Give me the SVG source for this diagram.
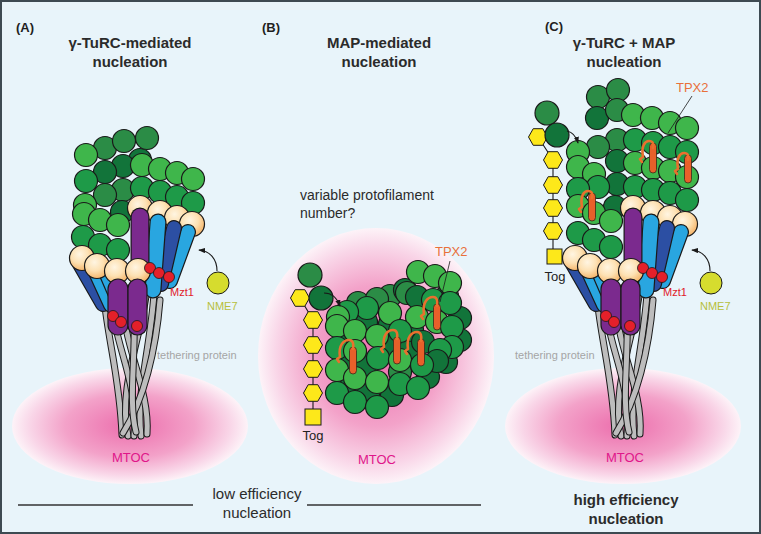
<svg xmlns="http://www.w3.org/2000/svg" width="761" height="534" viewBox="0 0 761 534">
<defs>
<style>
.t{font-family:"Liberation Sans",Arial,Helvetica,sans-serif}
.h{font-size:15px;font-weight:bold;fill:#2b2b2b;text-anchor:middle}
.pl{font-size:13px;font-weight:bold;fill:#1f1f1f}
.c{stroke:#1a1a1a;stroke-width:1.2}
.L{fill:#3fb64b}.M{fill:#1e9a48}.N{fill:#2b8c46}.D{fill:#12743a}
.tan{fill:url(#tanG);stroke:#1a1a1a;stroke-width:1.2}
.red{fill:#e4202a;stroke:#1a1a1a;stroke-width:0.8}
.tb{fill:none;stroke:#1a1a1a;stroke-width:7;stroke-linecap:round}
.tg{fill:none;stroke:#bdbdbd;stroke-width:5;stroke-linecap:round}
.sk{stroke:#1a1a1a;stroke-linecap:round}
.sc{stroke-linecap:round}
.hex{fill:#fde81a;stroke:#1a1a1a;stroke-width:1}
.rod{fill:#e8602a;stroke:#3a2a1a;stroke-width:0.8}
.hook{fill:none;stroke:#e9702e;stroke-width:2.6;stroke-linecap:round;stroke-linejoin:round}
.con{fill:none;stroke:#1a1a1a;stroke-width:1.1}
.mtoc{font-size:13px;fill:#e0168a;text-anchor:middle}
.sm{font-size:11px}
</style>
<radialGradient id="tanG" cx="0.4" cy="0.35" r="0.7">
<stop offset="0" stop-color="#fff5e2"/>
<stop offset="0.5" stop-color="#fde1b3"/>
<stop offset="1" stop-color="#f4b062"/>
</radialGradient>
<radialGradient id="pink">
<stop offset="0" stop-color="#ec6dac"/>
<stop offset="0.55" stop-color="#f3a2c9"/>
<stop offset="0.85" stop-color="#f9d6e8"/>
<stop offset="1" stop-color="#fdf3f8"/>
</radialGradient>
<marker id="ah" viewBox="0 0 8 6" refX="7" refY="3" markerWidth="7" markerHeight="5.5" markerUnits="userSpaceOnUse" orient="auto">
<path d="M0,0 L8,3 L0,6 z" fill="#1a1a1a"/>
</marker>
<g id="turc">
<path class="tb" d="M104,298 C108,340 120,380 122,435"/><path class="tg" d="M104,298 C108,340 120,380 122,435"/>
<path class="tb" d="M146,296 C140,340 118,390 128,436"/><path class="tg" d="M146,296 C140,340 118,390 128,436"/>
<path class="tb" d="M111,300 C116,350 138,380 134,436"/><path class="tg" d="M111,300 C116,350 138,380 134,436"/>
<path class="tb" d="M154,294 C150,350 136,392 141,436"/><path class="tg" d="M154,294 C150,350 136,392 141,436"/>
<path class="tb" d="M122,305 C126,350 150,392 147,434"/><path class="tg" d="M122,305 C126,350 150,392 147,434"/>
<path class="tb" d="M160,300 C156,350 144,400 123,433"/><path class="tg" d="M160,300 C156,350 144,400 123,433"/>
<path class="tb" d="M134,308 C136,360 128,400 136,432"/><path class="tg" d="M134,308 C136,360 128,400 136,432"/>
<circle class="tan" cx="140" cy="208" r="12.5"/>
<circle class="tan" cx="160" cy="213" r="12.5"/>
<circle class="tan" cx="177" cy="218" r="12.5"/>
<circle class="tan" cx="192" cy="224" r="12.5"/>
<line class="sk" x1="80" y1="264" x2="103" y2="304" stroke-width="16"/><line class="sc" x1="80" y1="264" x2="103" y2="304" stroke="#2c4fa3" stroke-width="13.6"/>
<line class="sk" x1="94" y1="268" x2="111" y2="305" stroke-width="16"/><line class="sc" x1="94" y1="268" x2="111" y2="305" stroke="#29a6e0" stroke-width="13.6"/>
<line class="sk" x1="106" y1="272" x2="119" y2="302" stroke-width="16"/><line class="sc" x1="106" y1="272" x2="119" y2="302" stroke="#29a6e0" stroke-width="13.6"/>
<line class="sk" x1="188" y1="232" x2="170" y2="281" stroke-width="16"/><line class="sc" x1="188" y1="232" x2="170" y2="281" stroke="#29a6e0" stroke-width="13.6"/>
<line class="sk" x1="174" y1="228" x2="161" y2="284" stroke-width="16"/><line class="sc" x1="174" y1="228" x2="161" y2="284" stroke="#2c4fa3" stroke-width="13.6"/>
<line class="sk" x1="158" y1="222" x2="153" y2="290" stroke-width="17"/><line class="sc" x1="158" y1="222" x2="153" y2="290" stroke="#29a6e0" stroke-width="14.6"/>
<line class="sk" x1="140" y1="217" x2="140" y2="274" stroke-width="19"/><line class="sc" x1="140" y1="217" x2="140" y2="274" stroke="#7b2a8e" stroke-width="16.6"/>
<circle class="tan" cx="82" cy="258" r="12.5"/>
<circle class="tan" cx="97" cy="266" r="12.5"/>
<circle class="tan" cx="117" cy="271" r="12.5"/>
<circle class="tan" cx="138" cy="271" r="12.5"/>
<circle class="red" cx="150" cy="268" r="5.5"/>
<circle class="red" cx="159" cy="273" r="5.5"/>
<circle class="red" cx="169" cy="277" r="5.5"/>
<rect x="108" y="279" width="20" height="56" rx="10" fill="#7b2a8e" stroke="#1a1a1a" stroke-width="1.2"/>
<rect x="128" y="279" width="19" height="56" rx="9.5" fill="#7b2a8e" stroke="#1a1a1a" stroke-width="1.2"/>
<circle class="red" cx="113" cy="316" r="5.5"/>
<circle class="red" cx="121" cy="322" r="5.5"/>
<circle class="red" cx="137" cy="326" r="5.5"/>
</g>
</defs>

<rect x="1" y="1" width="759" height="532" fill="#e8f4fa" stroke="#3d4a52" stroke-width="2"/>

<g id="mtoc-areas">
<ellipse cx="130" cy="426" rx="118" ry="58" fill="url(#pink)"/>
<ellipse cx="376" cy="356" rx="118" ry="128" fill="url(#pink)"/>
<ellipse cx="623" cy="426" rx="118" ry="58" fill="url(#pink)"/>
</g>

<g id="titles" class="t">
<text class="pl" x="16" y="32">(A)</text>
<text class="h" x="130" y="48">γ-TuRC-mediated</text>
<text class="h" x="130" y="67">nucleation</text>
<text class="pl" x="262" y="32">(B)</text>
<text class="h" x="379" y="48">MAP-mediated</text>
<text class="h" x="379" y="67">nucleation</text>
<text class="pl" x="545" y="31">(C)</text>
<text class="h" x="624" y="48">γ-TuRC + MAP</text>
<text class="h" x="624" y="67">nucleation</text>
</g>

<g id="panelA">
<g id="lattice-A" class="c">
<circle class="D" cx="140" cy="160" r="11.5"/>
<circle class="N" cx="105" cy="148" r="11.5"/><circle class="N" cx="124" cy="141" r="11.5"/><circle class="N" cx="147" cy="138" r="11.5"/>
<circle class="L" cx="86" cy="155" r="11.5"/>
<circle class="D" cx="123" cy="166" r="11.5"/><circle class="D" cx="105" cy="172" r="11.5"/>
<circle class="M" cx="86" cy="181" r="11.5"/>
<circle class="L" cx="142" cy="165" r="11.5"/><circle class="L" cx="160" cy="169" r="11.5"/><circle class="L" cx="177" cy="173" r="11.5"/><circle class="L" cx="193" cy="179" r="11.5"/>
<circle class="N" cx="123" cy="190" r="11.5"/><circle class="N" cx="105" cy="195" r="11.5"/>
<circle class="M" cx="142" cy="188" r="11.5"/><circle class="M" cx="160" cy="192" r="11.5"/><circle class="M" cx="177" cy="197" r="11.5"/><circle class="M" cx="193" cy="203" r="11.5"/>
<circle class="D" cx="122" cy="212" r="11.5"/>
<circle class="L" cx="85" cy="205" r="11.5"/><circle class="L" cx="84" cy="214" r="11.5"/>
<circle class="L" cx="100" cy="220" r="11.5"/><circle class="L" cx="118" cy="225" r="11.5"/>
<circle class="M" cx="83" cy="237" r="11.5"/><circle class="M" cx="100" cy="245" r="11.5"/><circle class="M" cx="118" cy="250" r="11.5"/>
</g>
<g id="gTuRC-A"><use href="#turc"/></g>
<g id="nme7-A"><circle cx="218" cy="283" r="11" fill="#d6dc2e" stroke="#1a1a1a" stroke-width="1"/></g>
<g id="labels-A" class="t sm">
<text x="170" y="296" fill="#e0202a">Mzt1</text>
<text x="207" y="310" fill="#b7bf3c">NME7</text>
<text x="157" y="359" fill="#a5a5a5">tethering protein</text>
<text class="mtoc" x="131" y="462">MTOC</text>
</g>
</g>

<g id="panelB">
<text class="t" x="300" y="200" font-size="14" fill="#2b2b2b">variable protofilament</text>
<text class="t" x="300" y="218" font-size="14" fill="#2b2b2b">number?</text>
<g id="lattice-B" class="c">
<circle class="N" cx="358" cy="303" r="11.5"/><circle class="N" cx="390" cy="296" r="11.5"/><circle class="D" cx="405" cy="290" r="11.5"/>
<circle class="D" cx="447" cy="296" r="11.5"/><circle class="D" cx="460" cy="318" r="11.5"/><circle class="D" cx="460" cy="340" r="11.5"/>
<circle class="D" cx="446" cy="362" r="11.5"/><circle class="D" cx="428" cy="377" r="11.5"/><circle class="N" cx="400" cy="372" r="11.5"/>
<circle class="D" cx="365" cy="365" r="11.5"/><circle class="D" cx="346" cy="358" r="11.5"/><circle class="D" cx="388" cy="345" r="11.5"/>
<circle class="D" cx="410" cy="350" r="11.5"/><circle class="D" cx="346" cy="337" r="11.5"/><circle class="D" cx="366" cy="322" r="11.5"/>
<circle class="D" cx="390" cy="324" r="11.5"/><circle class="D" cx="412" cy="330" r="11.5"/><circle class="D" cx="350" cy="388" r="11.5"/>
<circle class="D" cx="368" cy="395" r="11.5"/><circle class="D" cx="392" cy="395" r="11.5"/>
<circle class="L" cx="418" cy="272" r="11.5"/><circle class="L" cx="435" cy="276" r="11.5"/><circle class="L" cx="450" cy="283" r="11.5"/>
<circle class="N" cx="407" cy="293" r="11.5"/><circle class="N" cx="377" cy="299" r="11.5"/>
<circle class="D" cx="417" cy="297" r="11.5"/><circle class="M" cx="433" cy="300" r="11.5"/><circle class="M" cx="450" cy="303" r="11.5"/>
<circle class="M" cx="367" cy="308" r="11.5"/><circle class="M" cx="347" cy="312" r="11.5"/>
<circle class="L" cx="390" cy="313" r="11.5"/><circle class="L" cx="338" cy="317" r="11.5"/>
<circle class="L" cx="417" cy="317" r="11.5"/><circle class="L" cx="437" cy="322" r="11.5"/><circle class="M" cx="452" cy="327" r="11.5"/>
<circle class="L" cx="337" cy="326" r="11.5"/><circle class="L" cx="355" cy="331" r="11.5"/><circle class="L" cx="377" cy="336" r="11.5"/>
<circle class="M" cx="400" cy="331" r="11.5"/><circle class="D" cx="423" cy="342" r="11.5"/><circle class="M" cx="452" cy="347" r="11.5"/><circle class="M" cx="440" cy="350" r="11.5"/>
<circle class="M" cx="337" cy="348" r="11.5"/><circle class="L" cx="355" cy="351" r="11.5"/><circle class="M" cx="378" cy="358" r="11.5"/>
<circle class="L" cx="400" cy="360" r="11.5"/><circle class="D" cx="437" cy="361" r="11.5"/><circle class="M" cx="422" cy="365" r="11.5"/>
<circle class="L" cx="337" cy="370" r="11.5"/><circle class="L" cx="355" cy="378" r="11.5"/><circle class="L" cx="377" cy="382" r="11.5"/>
<circle class="M" cx="400" cy="384" r="11.5"/><circle class="M" cx="418" cy="388" r="11.5"/>
<circle class="M" cx="337" cy="393" r="11.5"/><circle class="M" cx="355" cy="402" r="11.5"/><circle class="M" cx="377" cy="407" r="11.5"/>
</g>
<g id="tpx2-B">
<rect class="rod" x="433.5" y="304" width="7" height="26" rx="3.5"/>
<path class="hook" d="M424,314 l-3,2 l2,3 M424,314 C422,302 428,297 433,297 C437,297 438,301 437,306"/>
<rect class="rod" x="349.5" y="347" width="7" height="27" rx="3.5"/>
<path class="hook" d="M340,357 l-3,2 l2,3 M340,357 C338,345 344,340 349,340 C353,340 354,344 353,349"/>
<rect class="rod" x="393.5" y="337" width="7" height="27" rx="3.5"/>
<path class="hook" d="M384,347 l-3,2 l2,3 M384,347 C382,335 388,330 393,330 C397,330 398,334 397,339"/>
<rect class="rod" x="417.5" y="339" width="7" height="27" rx="3.5"/>
<path class="hook" d="M408,349 l-3,2 l2,3 M408,349 C406,337 412,332 417,332 C421,332 422,336 421,341"/>
</g>
<g id="tog-B">
<polyline class="con" points="300,298 313,320 313,417"/>
<polygon class="hex" transform="translate(300,298)" points="9.5,0 4.8,8.3 -4.8,8.3 -9.5,0 -4.8,-8.3 4.8,-8.3"/>
<polygon class="hex" transform="translate(313,320)" points="9.5,0 4.8,8.3 -4.8,8.3 -9.5,0 -4.8,-8.3 4.8,-8.3"/>
<polygon class="hex" transform="translate(313,345)" points="9.5,0 4.8,8.3 -4.8,8.3 -9.5,0 -4.8,-8.3 4.8,-8.3"/>
<polygon class="hex" transform="translate(313,369)" points="9.5,0 4.8,8.3 -4.8,8.3 -9.5,0 -4.8,-8.3 4.8,-8.3"/>
<polygon class="hex" transform="translate(313,393)" points="9.5,0 4.8,8.3 -4.8,8.3 -9.5,0 -4.8,-8.3 4.8,-8.3"/>
<rect class="hex" x="305" y="409" width="16" height="16"/>
<circle class="c N" cx="310" cy="275" r="12"/>
<circle class="c D" cx="321" cy="298" r="12"/>
</g>
<g class="t">
<text x="435" y="256" font-size="13" fill="#e8703a">TPX2</text>
<text x="313" y="440" font-size="13" fill="#222" text-anchor="middle">Tog</text>
<text class="mtoc" x="377" y="464">MTOC</text>
</g>
</g>

<g id="panelC">
<g id="lattice-C" class="c">
<circle class="N" cx="598" cy="97" r="11.5"/><circle class="N" cx="618" cy="90" r="11.5"/>
<circle class="D" cx="597" cy="118" r="11.5"/><circle class="N" cx="617" cy="110" r="11.5"/>
<circle class="L" cx="633" cy="115" r="11.5"/><circle class="L" cx="652" cy="118" r="11.5"/><circle class="L" cx="670" cy="123" r="11.5"/><circle class="L" cx="687" cy="128" r="11.5"/>
<circle class="N" cx="617" cy="140" r="11.5"/><circle class="N" cx="598" cy="147" r="11.5"/>
<circle class="M" cx="635" cy="140" r="11.5"/><circle class="M" cx="653" cy="143" r="11.5"/><circle class="M" cx="670" cy="147" r="11.5"/><circle class="M" cx="687" cy="152" r="11.5"/>
<circle class="L" cx="578" cy="152" r="11.5"/>
<circle class="D" cx="617" cy="161" r="11.5"/>
<circle class="L" cx="578" cy="167" r="11.5"/><circle class="L" cx="594" cy="174" r="11.5"/>
<circle class="L" cx="635" cy="163" r="11.5"/><circle class="L" cx="653" cy="168" r="11.5"/><circle class="L" cx="670" cy="171" r="11.5"/><circle class="L" cx="687" cy="177" r="11.5"/>
<circle class="D" cx="617" cy="184" r="11.5"/>
<circle class="M" cx="598" cy="187" r="11.5"/><circle class="M" cx="578" cy="189" r="11.5"/>
<circle class="M" cx="635" cy="187" r="11.5"/><circle class="M" cx="653" cy="190" r="11.5"/><circle class="M" cx="670" cy="193" r="11.5"/><circle class="M" cx="687" cy="200" r="11.5"/>
<circle class="D" cx="615" cy="207" r="11.5"/>
<circle class="L" cx="578" cy="206" r="11.5"/><circle class="L" cx="594" cy="213" r="11.5"/><circle class="L" cx="611" cy="221" r="11.5"/>
<circle class="M" cx="578" cy="233" r="11.5"/><circle class="M" cx="594" cy="240" r="11.5"/><circle class="M" cx="611" cy="247" r="11.5"/>
</g>
<g id="tpx2-C">
<rect class="rod" x="649.5" y="143" width="7" height="30" rx="3.5"/>
<path class="hook" d="M643,157 l-3,2 l2,3 M643,157 C641,146 645,141 649,141 C653,141 654,144 653,148"/>
<rect class="rod" x="684.5" y="155" width="7" height="28" rx="3.5"/>
<path class="hook" d="M678,169 l-3,2 l2,3 M678,169 C676,158 680,153 684,153 C688,153 689,156 688,160"/>
<rect class="rod" x="588.5" y="193" width="7" height="28" rx="3.5"/>
<path class="hook" d="M582,207 l-3,2 l2,3 M582,207 C580,196 584,191 588,191 C592,191 593,194 592,198"/>
</g>
<g id="gTuRC-C"><use href="#turc" transform="translate(493,0)"/></g>
<g id="tog-C">
<polyline class="con" points="538,137 553,160 553,257"/>
<polygon class="hex" transform="translate(538,137)" points="9.5,0 4.8,8.3 -4.8,8.3 -9.5,0 -4.8,-8.3 4.8,-8.3"/>
<polygon class="hex" transform="translate(553,160)" points="9.5,0 4.8,8.3 -4.8,8.3 -9.5,0 -4.8,-8.3 4.8,-8.3"/>
<polygon class="hex" transform="translate(553,185)" points="9.5,0 4.8,8.3 -4.8,8.3 -9.5,0 -4.8,-8.3 4.8,-8.3"/>
<polygon class="hex" transform="translate(553,208)" points="9.5,0 4.8,8.3 -4.8,8.3 -9.5,0 -4.8,-8.3 4.8,-8.3"/>
<polygon class="hex" transform="translate(553,231)" points="9.5,0 4.8,8.3 -4.8,8.3 -9.5,0 -4.8,-8.3 4.8,-8.3"/>
<rect class="hex" x="547" y="249" width="15" height="15"/>
<circle class="c N" cx="547" cy="113" r="12"/>
<circle class="c D" cx="557" cy="135" r="12"/>
</g>
<g id="nme7-C"><circle cx="711" cy="283" r="11" fill="#d6dc2e" stroke="#1a1a1a" stroke-width="1"/></g>
<g id="labels-C" class="t sm">
<text x="663" y="296" fill="#e0202a">Mzt1</text>
<text x="700" y="310" fill="#b7bf3c">NME7</text>
<text x="515" y="359" fill="#a5a5a5">tethering protein</text>
<text x="676" y="92" font-size="13" fill="#e8703a">TPX2</text>
<text x="555" y="281" font-size="13" fill="#222" text-anchor="middle">Tog</text>
<text class="mtoc" x="625" y="462">MTOC</text>
</g>
</g>

<g id="connectors">
<path class="con" d="M217,271 C217,259 210,251 199,250" marker-end="url(#ah)"/>
<path class="con" d="M710,271 C710,259 703,251 692,250" marker-end="url(#ah)"/>
<path class="con" d="M324,293 C332,293 337,298 340,306" marker-end="url(#ah)"/>
<path class="con" d="M567,131 C572,132 576,136 578,143" marker-end="url(#ah)"/>
<line x1="450" y1="261" x2="440" y2="302" stroke="#1a1a1a" stroke-width="0.8"/>
<line x1="692" y1="96" x2="668" y2="133" stroke="#1a1a1a" stroke-width="0.8"/>
<line x1="18" y1="505" x2="193" y2="505" stroke="#333" stroke-width="1.5"/>
<line x1="307" y1="505" x2="481" y2="505" stroke="#333" stroke-width="1.5"/>
</g>

<g id="efficiency" class="t">
<text x="257" y="499" font-size="15" fill="#2b2b2b" text-anchor="middle">low efficiency</text>
<text x="257" y="518" font-size="15" fill="#2b2b2b" text-anchor="middle">nucleation</text>
<text class="h" x="626" y="505">high efficiency</text>
<text class="h" x="626" y="524">nucleation</text>
</g>
</svg>
